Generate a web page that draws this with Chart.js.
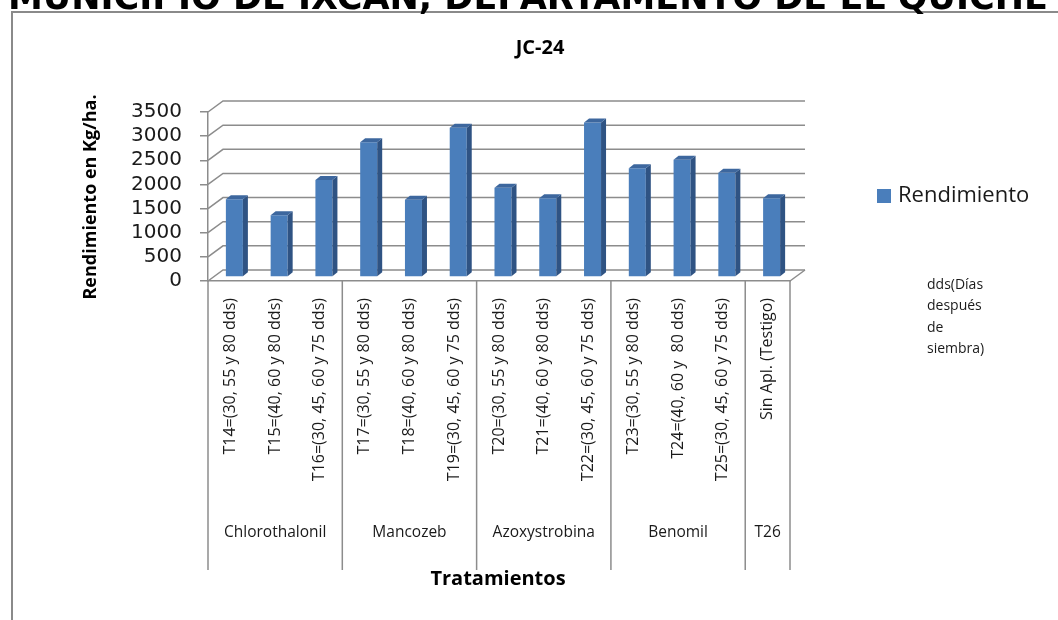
<!DOCTYPE html>
<html>
<head>
<meta charset="utf-8">
<script src="https://cdn.jsdelivr.net/npm/chart.js@4/dist/chart.umd.min.js"></script>
<style>
  html, body { margin: 0; padding: 0; background: #ffffff; }
  canvas { display: block; }
</style>
</head>
<body>
<canvas id="chart" width="1058" height="620"></canvas>
<script>
// ---- data ----
const heading = 'MUNICIPIO DE IXCAN, DEPARTAMENTO DE EL QUICHE';
const chartTitle = 'JC-24';
const seriesName = 'Rendimiento';
const yTitle = 'Rendimiento en Kg/ha.';
const xTitle = 'Tratamientos';
const noteLines = ['dds(Días', 'después', 'de', 'siembra)'];

const categories = [
  'T14=(30, 55 y 80 dds)',
  'T15=(40, 60 y 80 dds)',
  'T16=(30, 45, 60 y 75 dds)',
  'T17=(30, 55 y 80 dds)',
  'T18=(40, 60 y 80 dds)',
  'T19=(30, 45, 60 y 75 dds)',
  'T20=(30, 55 y 80 dds)',
  'T21=(40, 60 y 80 dds)',
  'T22=(30, 45, 60 y 75 dds)',
  'T23=(30, 55 y 80 dds)',
  'T24=(40, 60 y  80 dds)',
  'T25=(30, 45, 60 y 75 dds)',
  'Sin Apl. (Testigo)'
];
const rendimiento = [1610, 1280, 2010, 2790, 1600, 3090, 1850, 1630, 3200, 2250, 2430, 2160, 1630];

const groupNames = ['Chlorothalonil', 'Mancozeb', 'Azoxystrobina', 'Benomil', 'T26'];
const groupSizes = [3, 3, 3, 3, 1];

const yMin = 0, yMax = 3500, yStep = 500;

// ---- styling ----
const GRID = '#8c8c8c';
const BLUE = '#4a7ebb', BLUE_SIDE = '#2f5383', BLUE_TOP = '#3d679e';
const DEPTH = { x: 15, y: -11 };     // back wall offset from the front plane
const BAR_SHIFT = { x: 4, y: -4 };   // bar front faces sit a little inside the floor
const BAR_DEPTH = { x: 5, y: -4 };   // thickness of the bar side / top faces
const SANS = '"Open Sans", sans-serif';

function line(ctx, pts) {
  ctx.beginPath();
  ctx.moveTo(pts[0][0], pts[0][1]);
  for (let i = 1; i < pts.length; i++) ctx.lineTo(pts[i][0], pts[i][1]);
  ctx.stroke();
}

// page background, outer frame and the heading above it
const backdrop = {
  id: 'backdrop',
  beforeDraw(chart) {
    const ctx = chart.ctx;
    ctx.save();
    ctx.fillStyle = '#ffffff';
    ctx.fillRect(0, 0, chart.width, chart.height);
    ctx.strokeStyle = '#8a8a8a';
    ctx.lineWidth = 2;
    line(ctx, [[12, chart.height + 2], [12, 12], [chart.width + 2, 12]]);
    ctx.fillStyle = '#000000';
    ctx.font = 'bold 35px "DejaVu Sans", sans-serif';
    ctx.textAlign = 'left';
    ctx.textBaseline = 'alphabetic';
    ctx.fillText(heading, 8, 9);
    ctx.restore();
  }
};

// back wall grid, left wall diagonals, floor edge; then shift the bars into depth
const wall3d = {
  id: 'wall3d',
  beforeDatasetsDraw(chart) {
    const { ctx, chartArea: a, scales: { y } } = chart;
    ctx.save();
    ctx.strokeStyle = GRID;
    ctx.lineWidth = 1.5;
    for (let v = yMin; v <= yMax; v += yStep) {
      const py = y.getPixelForValue(v);
      line(ctx, [[a.left, py], [a.left + DEPTH.x, py + DEPTH.y], [a.right + DEPTH.x, py + DEPTH.y]]);
    }
    const p0 = y.getPixelForValue(yMin);
    line(ctx, [[a.right, p0], [a.right + DEPTH.x, p0 + DEPTH.y]]);
    ctx.restore();

    ctx.save();
    ctx.translate(BAR_SHIFT.x, BAR_SHIFT.y);
  },
  afterDatasetsDraw(chart) {
    const ctx = chart.ctx;
    const meta = chart.getDatasetMeta(0);
    meta.data.forEach((bar) => {
      const { x, y, base, width } = bar.getProps(['x', 'y', 'base', 'width'], true);
      const l = x - width / 2, r = x + width / 2;
      // side face
      ctx.fillStyle = BLUE_SIDE;
      ctx.beginPath();
      ctx.moveTo(r, base);
      ctx.lineTo(r + BAR_DEPTH.x, base + BAR_DEPTH.y);
      ctx.lineTo(r + BAR_DEPTH.x, y + BAR_DEPTH.y);
      ctx.lineTo(r, y);
      ctx.closePath();
      ctx.fill();
      // top face
      ctx.fillStyle = BLUE_TOP;
      ctx.beginPath();
      ctx.moveTo(l, y);
      ctx.lineTo(l + BAR_DEPTH.x, y + BAR_DEPTH.y);
      ctx.lineTo(r + BAR_DEPTH.x, y + BAR_DEPTH.y);
      ctx.lineTo(r, y);
      ctx.closePath();
      ctx.fill();
    });
    ctx.restore();
  }
};

// group dividers and names, axis titles, chart title, legend and the dds note
const annotations = {
  id: 'annotations',
  afterDraw(chart) {
    const { ctx, chartArea: a, scales: { x } } = chart;
    const step = (a.right - a.left) / categories.length;
    ctx.save();
    ctx.strokeStyle = GRID;
    ctx.lineWidth = 1.5;
    let idx = 0;
    const bounds = [x.getPixelForValue(0) - step / 2];
    groupSizes.forEach((n) => {
      idx += n;
      bounds.push(x.getPixelForValue(idx - 1) + step / 2);
    });
    bounds.forEach((bx) => line(ctx, [[bx, a.bottom], [bx, 570]]));

    ctx.fillStyle = '#1a1a1a';
    ctx.font = '15.5px ' + SANS;
    ctx.textAlign = 'center';
    ctx.textBaseline = 'middle';
    groupNames.forEach((g, i) => ctx.fillText(g, (bounds[i] + bounds[i + 1]) / 2, 533));

    // chart title
    ctx.fillStyle = '#000000';
    ctx.font = 'bold 20px ' + SANS;
    ctx.fillText(chartTitle, 540, 48);

    // x axis title
    ctx.font = 'bold 20px ' + SANS;
    ctx.fillText(xTitle, 498, 579);

    // y axis title
    ctx.save();
    ctx.translate(91, 197);
    ctx.rotate(-Math.PI / 2);
    ctx.font = 'bold 18px ' + SANS;
    ctx.fillText(yTitle, 0, 0);
    ctx.restore();

    // legend
    ctx.fillStyle = BLUE;
    ctx.fillRect(877, 189, 14, 14);
    ctx.fillStyle = '#1a1a1a';
    ctx.font = '22px ' + SANS;
    ctx.textAlign = 'left';
    ctx.fillText(seriesName, 898, 196);

    // note on the dds abbreviation
    ctx.font = '14px ' + SANS;
    noteLines.forEach((t, i) => ctx.fillText(t, 927, 285 + i * 21.5));
    ctx.restore();
  }
};

new Chart(document.getElementById('chart'), {
  type: 'bar',
  data: {
    labels: categories,
    datasets: [{
      label: seriesName,
      data: rendimiento,
      backgroundColor: BLUE,
      borderWidth: 0,
      categoryPercentage: 1,
      barPercentage: 0.38,
      clip: false
    }]
  },
  options: {
    responsive: false,
    animation: false,
    devicePixelRatio: 1,
    layout: { padding: { left: 108, right: 268, top: 112, bottom: 0 } },
    plugins: {
      legend: { display: false },
      title: { display: false },
      tooltip: { enabled: false }
    },
    scales: {
      x: {
        grid: { display: false, drawTicks: false },
        border: { display: true, color: GRID, width: 1.5 },
        ticks: {
          autoSkip: false,
          maxRotation: 90,
          minRotation: 90,
          padding: 17,
          color: '#1a1a1a',
          font: { family: SANS, size: 16 }
        },
        afterFit(s) { s.height = 339; }
      },
      y: {
        min: yMin,
        max: yMax,
        grid: { display: true, drawOnChartArea: false, drawTicks: true, tickLength: 8, color: GRID, lineWidth: 1.5 },
        border: { display: true, color: GRID, width: 1.5 },
        ticks: {
          stepSize: yStep,
          autoSkip: false,
          padding: 18,
          color: '#1a1a1a',
          font: { family: '"DejaVu Sans", sans-serif', size: 20 },
          callback: (v) => String(v)
        },
        afterFit(s) { s.width = 100; }
      }
    }
  },
  plugins: [backdrop, wall3d, annotations]
});
</script>
</body>
</html>
